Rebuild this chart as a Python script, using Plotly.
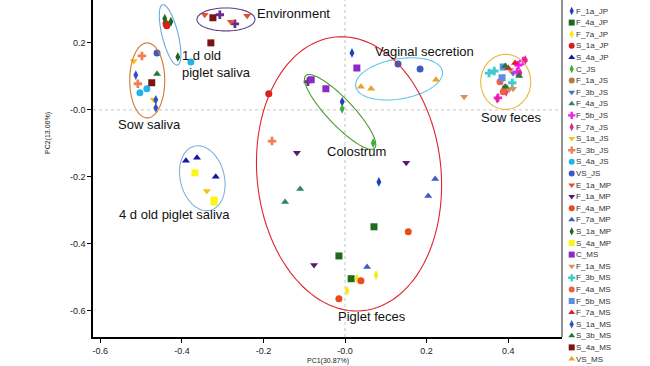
import math
import plotly.graph_objects as go

# ---------------- data ----------------
series = ["E_1a_JP", "F_1a_JP", "F_4a_JP", "F_7a_JP", "S_1a_JP", "S_4a_JP",
          "C_JS", "F_1a_JS", "F_3b_JS", "F_4a_JS", "F_5b_JS", "F_7a_JS",
          "S_1a_JS", "S_3b_JS", "S_4a_JS", "VS_JS",
          "E_1a_MP", "F_1a_MP", "F_4a_MP", "F_7a_MP", "S_1a_MP", "S_4a_MP",
          "C_MS", "F_1a_MS", "F_3b_MS", "F_4a_MS", "F_5b_MS", "F_7a_MS",
          "S_1a_MS", "S_3b_MS", "S_4a_MS", "VS_MS"]

pc1 = {
    "E_1a_JP": [-0.307, -0.270, -0.091],
    "F_1a_JP": [0.017, -0.007, 0.083],
    "F_4a_JP": [0.071, -0.015, 0.015],
    "F_7a_JP": [0.076, 0.029, 0.005],
    "S_1a_JP": [-0.437, -0.439, -0.187],
    "S_4a_JP": [-0.390, -0.363, -0.317],
    "C_JS": [-0.007, 0.069],
    "F_1a_JS": [0.393],
    "F_3b_JS": [0.412],
    "F_4a_JS": [-0.110, -0.147],
    "F_5b_JS": [0.425, 0.437, 0.422, 0.375],
    "F_7a_JS": [0.442, 0.429, 0.395, 0.373],
    "S_1a_JS": [-0.518, -0.469, -0.339],
    "S_3b_JS": [-0.498, -0.508, -0.179],
    "S_4a_JS": [-0.378, -0.486, -0.503],
    "VS_JS": [-0.461, 0.130, 0.184],
    "E_1a_MP": [-0.344, -0.280, -0.240],
    "F_1a_MP": [-0.118, 0.150, -0.076],
    "F_4a_MP": [0.155, 0.039, -0.015],
    "F_7a_MP": [0.221, 0.204, 0.054],
    "S_1a_MP": [-0.442, -0.427, -0.410],
    "S_4a_MP": [-0.368, -0.321, -0.321],
    "C_MS": [-0.083, -0.047, 0.029],
    "F_1a_MS": [0.292, 0.405, 0.402, 0.412],
    "F_3b_MS": [0.353, 0.366, 0.410],
    "F_4a_MS": [0.380, 0.388],
    "F_5b_MS": [0.388, 0.385],
    "F_7a_MS": [0.417, 0.400],
    "S_1a_MS": [-0.513, -0.464, -0.464],
    "S_3b_MS": [-0.461, 0.393, 0.427, 0.393],
    "S_4a_MS": [-0.324, -0.329, -0.474],
    "VS_MS": [0.039, 0.064, 0.223],
}
pc2 = {
    "E_1a_JP": [0.284, 0.257, 0.084],
    "F_1a_JP": [0.170, 0.024, -0.215],
    "F_4a_JP": [-0.349, -0.436, -0.504],
    "F_7a_JP": [-0.493, -0.504, -0.540],
    "S_1a_JP": [0.251, 0.257, 0.048],
    "S_4a_JP": [-0.152, -0.143, -0.200],
    "C_JS": [0.003, -0.099],
    "F_1a_JS": [0.066],
    "F_3b_JS": [0.110],
    "F_4a_JS": [-0.236, -0.275],
    "F_5b_JS": [0.134, 0.146, 0.113, 0.036],
    "F_7a_JS": [0.149, 0.110, 0.054, 0.033],
    "S_1a_JS": [0.146, 0.030, -0.242],
    "S_3b_JS": [0.161, 0.078, -0.093],
    "S_4a_JS": [0.143, 0.063, 0.051],
    "VS_JS": [0.170, 0.137, 0.122],
    "E_1a_MP": [0.284, 0.263, 0.281],
    "F_1a_MP": [-0.128, -0.158, -0.463],
    "F_4a_MP": [-0.364, -0.510, -0.564],
    "F_7a_MP": [-0.206, -0.257, -0.469],
    "S_1a_MP": [0.272, 0.263, 0.158],
    "S_4a_MP": [-0.188, -0.269, -0.275],
    "C_MS": [0.090, 0.063, 0.125],
    "F_1a_MS": [0.039, 0.119, 0.060, 0.063],
    "F_3b_MS": [0.110, 0.116, 0.081],
    "F_4a_MS": [0.084, 0.054],
    "F_5b_MS": [0.128, 0.096],
    "F_7a_MS": [0.140, 0.125],
    "S_1a_MS": [0.104, 0.030, 0.006],
    "S_3b_MS": [0.107, 0.131, 0.101, 0.069],
    "S_4a_MS": [0.275, 0.200, 0.081],
    "VS_MS": [0.069, 0.063, 0.090],
}

x_ticks = [-0.6, -0.4, -0.2, 0.0, 0.2, 0.4]
x_tick_text = ["-0.6", "-0.4", "-0.2", "-0.0", "0.2", "0.4"]
y_ticks = [-0.6, -0.4, -0.2, 0.0, 0.2]
y_tick_text = ["-0.6", "-0.4", "-0.2", "-0.0", "0.2"]

group_labels = ["Environment", "1 d old<br>piglet saliva", "Sow saliva",
                "4 d old piglet saliva", "Vaginal secretion", "Colostrum",
                "Piglet feces", "Sow feces"]

# ---------------- styles ----------------
style = {
    "E_1a_JP": ("#6a2c91", "cross"),
    "F_1a_JP": ("#1f3fbf", "diamond-tall"),
    "F_4a_JP": ("#1e6b1e", "square"),
    "F_7a_JP": ("#f5ea14", "diamond-tall"),
    "S_1a_JP": ("#d91e1e", "circle"),
    "S_4a_JP": ("#1414a8", "triangle-up"),
    "C_JS": ("#38b03c", "diamond-tall"),
    "F_1a_JS": ("#b87a40", "circle"),
    "F_3b_JS": ("#3a78d0", "triangle-down"),
    "F_4a_JS": ("#2e8a5a", "triangle-up"),
    "F_5b_JS": ("#f01ef0", "cross"),
    "F_7a_JS": ("#e0288c", "diamond-tall"),
    "S_1a_JS": ("#f2c21a", "triangle-down"),
    "S_3b_JS": ("#f08050", "cross"),
    "S_4a_JS": ("#22b4e6", "circle"),
    "VS_JS": ("#3a5cc0", "circle"),
    "E_1a_MP": ("#e8502a", "triangle-down"),
    "F_1a_MP": ("#5a1a6e", "triangle-down"),
    "F_4a_MP": ("#ea4a1c", "circle"),
    "F_7a_MP": ("#3a5ec2", "triangle-up"),
    "S_1a_MP": ("#1a6a1e", "diamond-tall"),
    "S_4a_MP": ("#fbf51a", "square"),
    "C_MS": ("#8a2bc8", "square"),
    "F_1a_MS": ("#d8905a", "triangle-down"),
    "F_3b_MS": ("#40cccc", "cross"),
    "F_4a_MS": ("#ee6040", "circle"),
    "F_5b_MS": ("#5a90e0", "square"),
    "F_7a_MS": ("#e01e1e", "triangle-up"),
    "S_1a_MS": ("#3050c4", "diamond-tall"),
    "S_3b_MS": ("#1f7a3a", "triangle-up"),
    "S_4a_MS": ("#7a1414", "square"),
    "VS_MS": ("#f0a020", "triangle-up"),
}

W, H = 650, 366
L, R, T, B = 93, 562, 0, 337          # plot area in pixels
XR = [-0.618, 0.532]
YR = [-0.678, 0.328]
kx = (R - L) / (XR[1] - XR[0])
ky = (B - T) / (YR[1] - YR[0])

fig = go.Figure()

for s in series:
    c, sym = style[s]
    fig.add_trace(go.Scatter(
        x=pc1[s], y=pc2[s], mode="markers", name=s, showlegend=False,
        marker=dict(color=c, symbol=sym, size=7, line=dict(width=0)),
        xaxis="x", yaxis="y", cliponaxis=False))

# ---------------- hand-made legend on a pixel axis ----------------
leg_x0, leg_y0, leg_dy = 571.7, -0.6, 11.6
fig.add_trace(go.Scatter(
    x=[leg_x0] * len(series),
    y=[leg_y0 + i * leg_dy for i in range(len(series))],
    mode="markers", showlegend=False,
    marker=dict(color=[style[s][0] for s in series],
                symbol=[style[s][1] for s in series], size=6, line=dict(width=0)),
    xaxis="x2", yaxis="y2", cliponaxis=False, hoverinfo="skip"))

annotations = []
for i, s in enumerate(series):
    annotations.append(dict(x=leg_x0 + 2.5, y=leg_y0 + i * leg_dy, xref="x2", yref="y2",
                            text=s, showarrow=False, xanchor="left", yanchor="middle",
                            font=dict(size=8, color="#333333", family="Arial, Liberation Sans")))

# ---------------- group labels ----------------
label_pos = [(-0.220, 0.287, "left"), (-0.405, 0.137, "left"), (-0.4785, -0.045, "center"),
             (-0.417, -0.313, "center"), (0.196, 0.174, "center"), (0.028, -0.125, "center"),
             (0.066, -0.618, "center"), (0.407, -0.024, "center")]
for txt, (lx, ly, anc) in zip(group_labels, label_pos):
    annotations.append(dict(x=lx, y=ly, xref="x", yref="y", text=txt, showarrow=False,
                            xanchor=anc, yanchor="middle", align="left",
                            font=dict(size=13, color="#111111", family="Arial, Liberation Sans")))

# axis titles
annotations.append(dict(x=(L + R) / 2 / W, y=(H - 361) / H, xref="paper", yref="paper",
                        text="PC1(30.87%)", showarrow=False, xanchor="center", yanchor="middle",
                        font=dict(size=7, color="#222222", family="Arial, Liberation Sans")))
annotations.append(dict(x=48 / W, y=(H - 133) / H, xref="paper", yref="paper",
                        text="PC2(13.06%)", showarrow=False, textangle=-90,
                        xanchor="center", yanchor="middle",
                        font=dict(size=7, color="#222222", family="Arial, Liberation Sans")))

# ---------------- ellipses ----------------
ellipses = [
    # cx, cy (data), a_px, b_px, angle_deg, color
    (-0.292, 0.270, 29, 11.5, 0, "#5b3a8c"),
    (-0.429, 0.224, 31, 8, 104, "#6fa8dc"),
    (-0.485, 0.088, 17.5, 37.5, 0, "#d2772a"),
    (-0.350, -0.204, 33, 22, 104, "#7fb2dc"),
    (0.1325, 0.0925, 44, 20, 10, "#5bc8e8"),
    (-0.012, -0.006, 50, 13, -46.6, "#4a9a2a"),
    (0.0098, -0.191, 137.5, 92, 95.8, "#e0242c"),
    (0.394, 0.0836, 25, 27.5, 0, "#e8b838"),
]
shapes = []
for cx, cy, a, b, ang, col in ellipses:
    th = math.radians(ang)
    pts = []
    for k in range(121):
        t = 2 * math.pi * k / 120
        dx = a * math.cos(t) * math.cos(th) - b * math.sin(t) * math.sin(th)
        dy = a * math.cos(t) * math.sin(th) + b * math.sin(t) * math.cos(th)
        pts.append((cx + dx / kx, cy + dy / ky))
    path = "M " + " L ".join(f"{px:.5f},{py:.5f}" for px, py in pts) + " Z"
    shapes.append(dict(type="path", path=path, xref="x", yref="y",
                       line=dict(color=col, width=1.1), fillcolor="rgba(0,0,0,0)", layer="above"))

# zero lines (dotted)
shapes.append(dict(type="line", xref="x", yref="y domain", x0=0, x1=0, y0=0, y1=1,
                   line=dict(color="#c4c4c4", width=1, dash="dot"), layer="below"))
shapes.append(dict(type="line", xref="x domain", yref="y", x0=0, x1=1, y0=0, y1=0,
                   line=dict(color="#c4c4c4", width=1, dash="dot"), layer="below"))
# right border line
shapes.append(dict(type="line", xref="x domain", yref="y domain", x0=1, x1=1, y0=0, y1=1,
                   line=dict(color="#222222", width=1)))

tickfont = dict(size=9, color="#222222", family="Arial, Liberation Sans")
fig.update_layout(
    width=W, height=H, margin=dict(l=0, r=0, t=0, b=0),
    paper_bgcolor="white", plot_bgcolor="rgba(0,0,0,0)",
    xaxis=dict(domain=[L / W, R / W], range=XR, tickvals=x_ticks, ticktext=x_tick_text,
               showline=True, linecolor="black", linewidth=1.5, ticks="outside",
               ticklen=4, tickcolor="black", showgrid=False, zeroline=False,
               tickfont=tickfont, anchor="y"),
    yaxis=dict(domain=[(H - B) / H, 1], range=YR, tickvals=y_ticks, ticktext=y_tick_text,
               showline=True, linecolor="black", linewidth=1.5, ticks="outside",
               ticklen=4, tickcolor="black", showgrid=False, zeroline=False,
               tickfont=tickfont, anchor="x"),
    xaxis2=dict(domain=[0, 1], range=[0, W], visible=False, anchor="y2", fixedrange=True),
    yaxis2=dict(domain=[0, 1], range=[H, 0], visible=False, anchor="x2", fixedrange=True),
    annotations=annotations, shapes=shapes, showlegend=False,
)

fig.write_html("out.html", config={"displayModeBar": False},
               post_script="document.body.style.margin='0px';")
